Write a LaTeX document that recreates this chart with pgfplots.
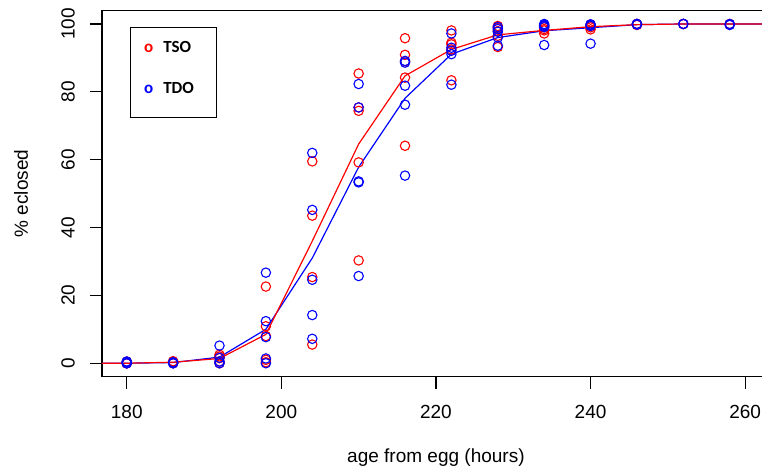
\documentclass[border=0pt]{standalone}
\usepackage{fontspec}
\setmainfont{Liberation Sans}
\newfontfamily\carlito{Carlito}
\usepackage{pgfplots}
\pgfplotsset{compat=1.18}

\pgfplotstableread{
t v
180 0
180 0
180 0
180 0.5
186 0
186 0.3
186 0.6
186 0.3
192 0
192 0.5
192 1.5
192 2.5
192 2.0
198 22.6
198 10.9
198 8.0
198 1.0
198 0.3
204 59.5
204 43.5
204 25.4
204 5.5
210 85.4
210 75.4
210 74.4
210 59.2
210 30.3
216 95.8
216 90.9
216 89.0
216 84.2
216 64.1
222 98.1
222 94.5
222 94.0
222 92.5
222 83.4
228 99.4
228 98.8
228 97.9
228 96.5
228 93.2
234 99.5
234 99.0
234 98.5
234 98.1
234 97.2
240 99.8
240 99.4
240 98.4
240 99.0
246 100
246 99.7
246 100
252 100
252 100
258 100
258 99.8
}\tsopts

\pgfplotstableread{
t v
180 0
180 0
180 0.3
180 0.5
186 0
186 0
186 0.3
192 0
192 5.2
192 1.6
192 0.5
198 26.7
198 12.4
198 7.7
198 1.4
198 0
204 62.0
204 45.2
204 24.6
204 14.2
204 7.2
210 82.3
210 75.4
210 53.6
210 53.3
210 25.7
216 89.1
216 88.6
216 81.8
216 76.2
216 55.3
222 97.2
222 93.0
222 92.1
222 91.1
222 82.1
228 99.1
228 98.5
228 97.7
228 96.0
228 93.6
234 100
234 99.7
234 99.4
234 99.1
234 93.8
240 99.9
240 99.4
240 99.7
240 94.2
246 100
246 99.8
246 100
252 100
252 100
258 100
258 99.7
}\tdopts

\pgfplotstableread{
t v
174 0
180 0
186 0.3
192 1.4
198 8.5
204 36.0
210 64.6
216 84.7
222 92.5
228 96.8
234 98.1
240 99.2
246 99.8
252 100
258 100
264 100
}\tsomean

\pgfplotstableread{
t v
174 0
180 0
186 0.2
192 1.8
198 10.0
204 31.0
210 57.8
216 78.1
222 91.1
228 96.0
234 98.0
240 98.9
246 99.8
252 100
258 100
264 100
}\tdomean

\begin{document}
\fontsize{19}{22}\selectfont
\begin{tikzpicture}
\begin{axis}[
  at={(0,0)}, anchor=south west,
  scale only axis, width=667.9pt, height=366.4pt,
  xmin=176.8, xmax=263.2, ymin=-4, ymax=104,
  xtick={180,200,220,240,260}, ytick={0,20,40,60,80,100},
  tick align=outside, xtick pos=left, ytick pos=left,
  major tick length=12pt,
  tick style={line width=1.2pt, black},
  axis line style={line width=1.2pt},
  /pgf/number format/assume math mode=true,
  every tick label/.append style={font=\fontsize{19}{22}\selectfont},
  xticklabel style={anchor=north, inner sep=0pt},
  yticklabel style={rotate=90, anchor=south, inner sep=0pt},
  xticklabel shift=16.5pt,
  yticklabel shift=15pt,
  xlabel={age from egg (hours)}, ylabel={\% eclosed},
  every axis label/.append style={font=\fontsize{19}{22}\selectfont},
  xlabel style={at={(axis description cs:0.5,-0.235)}, anchor=base},
  ylabel style={at={(axis description cs:-0.1108,0.5)}, anchor=base},
  legend style={at={(0.042,0.954)}, anchor=north west, draw=black, line width=1.2pt,
    inner xsep=13.5pt, inner ysep=12.7pt, row sep=18pt, column sep=10pt,
    font=\carlito\bfseries\fontsize{17}{20}\selectfont,
    nodes={inner sep=0pt, text height=12pt, text depth=11pt}},
  legend cell align=left,
]
\addlegendimage{legend image code/.code={\node[text=red, inner sep=0pt, text height=12pt, text depth=11pt, anchor=west, font=\carlito\bfseries\fontsize{17}{20}\selectfont] at (0,0) {o};}}
\addlegendentry{TSO\rule{9pt}{0pt}}
\addlegendimage{legend image code/.code={\node[text=blue, inner sep=0pt, text height=12pt, text depth=11pt, anchor=west, font=\carlito\bfseries\fontsize{17}{20}\selectfont] at (0,0) {o};}}
\addlegendentry{TDO\rule{9pt}{0pt}}

\addplot[forget plot, only marks, mark=o, mark size=4.7pt, mark options={line width=1.1pt, draw=red}] table[x=t,y=v] {\tsopts};
\addplot[forget plot, only marks, mark=o, mark size=4.7pt, mark options={line width=1.1pt, draw=blue}] table[x=t,y=v] {\tdopts};
\addplot[forget plot, blue, line width=1.2pt, no marks] table[x=t,y=v] {\tdomean};
\addplot[forget plot, red, line width=1.2pt, no marks] table[x=t,y=v] {\tsomean};
\end{axis}
\pgfresetboundingbox
\useasboundingbox (-102pt,-97.1pt) rectangle (660pt,376.8pt);
\end{tikzpicture}
\end{document}
